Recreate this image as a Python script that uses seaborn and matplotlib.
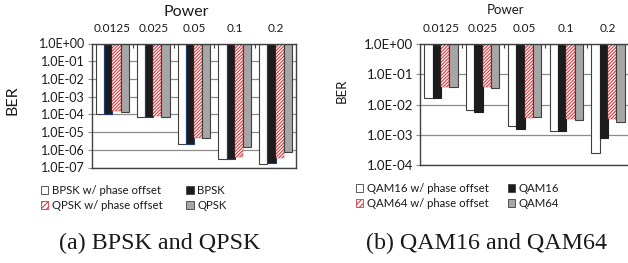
import pandas as pd
import matplotlib
matplotlib.use('Agg')
from matplotlib import pyplot as plt
from matplotlib.patches import Patch
from matplotlib.ticker import FixedLocator, FuncFormatter
import seaborn as sns

powers = ["0.0125", "0.025", "0.05", "0.1", "0.2"]

# (a) BPSK and QPSK
bpsk_off = [1.1e-4, 7e-5, 2e-6, 3.1e-7, 1.6e-7]
bpsk = [1.0e-4, 7e-5, 2e-6, 3.1e-7, 1.7e-7]
qpsk_off = [1.6e-4, 8e-5, 4.5e-6, 3.8e-7, 3.3e-7]
qpsk = [1.4e-4, 7e-5, 4.5e-6, 1.4e-6, 8e-7]

# (b) QAM16 and QAM64
qam16_off = [1.7e-2, 6.7e-3, 1.9e-3, 1.3e-3, 2.5e-4]
qam16 = [1.7e-2, 5.6e-3, 1.6e-3, 1.3e-3, 7.7e-4]
qam64_off = [3.7e-2, 3.7e-2, 3.5e-3, 3.4e-3, 3.3e-3]
qam64 = [3.7e-2, 3.5e-2, 3.8e-3, 3.1e-3, 2.6e-3]

sns.set_theme(style='white')
plt.rcParams['font.family'] = ['Lato', 'DejaVu Sans']
plt.rcParams['hatch.linewidth'] = 0.8

RED = '#d9393c'
EDGE = '#404040'


def bar_styles(black_edge):
    return [
        dict(facecolor='white', edgecolor=EDGE, hatch=None, linewidth=0.8),
        dict(facecolor='#1c1c1c', edgecolor=black_edge, hatch=None, linewidth=0.8),
        dict(facecolor='white', edgecolor=RED, hatch='/' * 10, linewidth=0.3),
        dict(facecolor='#a6a6a6', edgecolor=EDGE, hatch=None, linewidth=0.8),
    ]


def draw_panel(ax, names, values, ymin, styles, fs_tick, fs_label, fs_top):
    rows = []
    for name, vals in zip(names, values):
        for p, v in zip(powers, vals):
            rows.append({'power': p, 'series': name, 'ber': v})
    df = pd.DataFrame(rows)
    # bars hang down from 1.0E+00 to the value
    sns.barplot(x=df['power'], y=df['ber'] - 1, hue=df['series'],
                order=powers, hue_order=names, bottom=1, errorbar=None,
                width=0.8, legend=False, ax=ax, zorder=2)
    for cont, st in zip(ax.containers, styles):
        for bar in cont:
            bar.set_facecolor(st['facecolor'])
            bar.set_edgecolor(st['edgecolor'])
            bar.set_linewidth(st['linewidth'])
            if st['hatch']:
                bar.set_hatch(st['hatch'])
    ax.set_yscale('log')
    ax.set_ylim(ymin, 1)
    ax.set_xlim(-0.5, 4.5)
    ax.yaxis.set_major_locator(FixedLocator([10.0 ** -k for k in range(0, 8)]))
    ax.yaxis.set_major_formatter(FuncFormatter(lambda v, pos: f"{v:.1E}"))
    ax.yaxis.set_minor_locator(FixedLocator([]))
    ax.grid(axis='y', color='#8c8c8c', linewidth=0.9, zorder=0)
    ax.set_axisbelow(True)
    ax.xaxis.tick_top()
    ax.xaxis.set_minor_locator(FixedLocator([0.5, 1.5, 2.5, 3.5]))
    ax.tick_params(axis='x', which='major', length=0, pad=7, labelsize=fs_top,
                   top=True, bottom=False, labeltop=True, labelbottom=False,
                   colors='#1a1a1a')
    ax.tick_params(axis='x', which='minor', top=True, bottom=False, direction='in',
                   length=3, width=0.8, color=EDGE)
    ax.tick_params(axis='y', which='major', left=True, direction='out', length=3,
                   width=0.8, color='#8c8c8c', labelsize=fs_tick, pad=2,
                   labelcolor='#1a1a1a')
    ax.set_xlabel('Power', fontsize=fs_label, color='#1a1a1a')
    ax.set_ylabel('BER', fontsize=fs_label, color='#1a1a1a')
    for s in ax.spines.values():
        s.set_color(EDGE)
        s.set_linewidth(1.0)


fig = plt.figure(figsize=(6.28, 2.63), dpi=100)

ax1 = fig.add_axes([92 / 628, 1 - 167.5 / 263, 204 / 628, 124 / 263])
names_a = ['BPSK w/ phase offset', 'BPSK', 'QPSK w/ phase offset', 'QPSK']
draw_panel(ax1, names_a, [bpsk_off, bpsk, qpsk_off, qpsk], 1e-7,
           bar_styles('#1f3d73'), 9, 11.5, 8.5)
ax1.xaxis.set_label_coords(0.464, 1.255)
ax1.xaxis.label.set_va('center')
ax1.yaxis.set_label_coords(-0.39, 0.54)
ax1.yaxis.label.set_va('center')

ax2 = fig.add_axes([420 / 628, 1 - 165 / 263, 209 / 628, 121 / 263])
names_b = ['QAM16 w/ phase offset', 'QAM16', 'QAM64 w/ phase offset', 'QAM64']
draw_panel(ax2, names_b, [qam16_off, qam16, qam64_off, qam64], 1e-4,
           bar_styles('#1c1c1c'), 9.5, 9.5, 8.5)
ax2.spines['right'].set_visible(False)
ax2.xaxis.set_label_coords(0.41, 1.28)
ax2.xaxis.label.set_va('center')
ax2.yaxis.set_label_coords(-0.375, 0.61)
ax2.yaxis.label.set_va('center')


def add_legend(ax, names, styles, x0, y0, colsp):
    handles = [Patch(facecolor=st['facecolor'], edgecolor=st['edgecolor'] if st['hatch'] else EDGE,
                     hatch=st['hatch'] if st['hatch'] is None else '/' * 6,
                     linewidth=0.6, label=n)
               for n, st in zip(names, styles)]
    order = [0, 2, 1, 3]
    fig.legend([handles[i] for i in order], [names[i] for i in order],
               loc='upper left', bbox_to_anchor=(x0 / 628, 1 - y0 / 263),
               ncol=2, frameon=False, fontsize=8.2, handlelength=0.65,
               handleheight=0.65, handletextpad=0.3, columnspacing=colsp,
               labelspacing=0.35, borderpad=0, borderaxespad=0,
               labelcolor='#1a1a1a')


add_legend(ax1, names_a, bar_styles('#1f3d73'), 41, 185, 2.1)
add_legend(ax2, names_b, bar_styles('#1c1c1c'), 356, 183, 1.7)

fig.text(160 / 628, 1 - 243 / 263, '(a) BPSK and QPSK', ha='center', va='center',
         fontsize=17.3, family='Liberation Serif', color='#1a1a1a')
fig.text(486 / 628, 1 - 243 / 263, '(b) QAM16 and QAM64', ha='center', va='center',
         fontsize=17.3, family='Liberation Serif', color='#1a1a1a')

fig.savefig('out.png', dpi=100)
plt.close(fig)
